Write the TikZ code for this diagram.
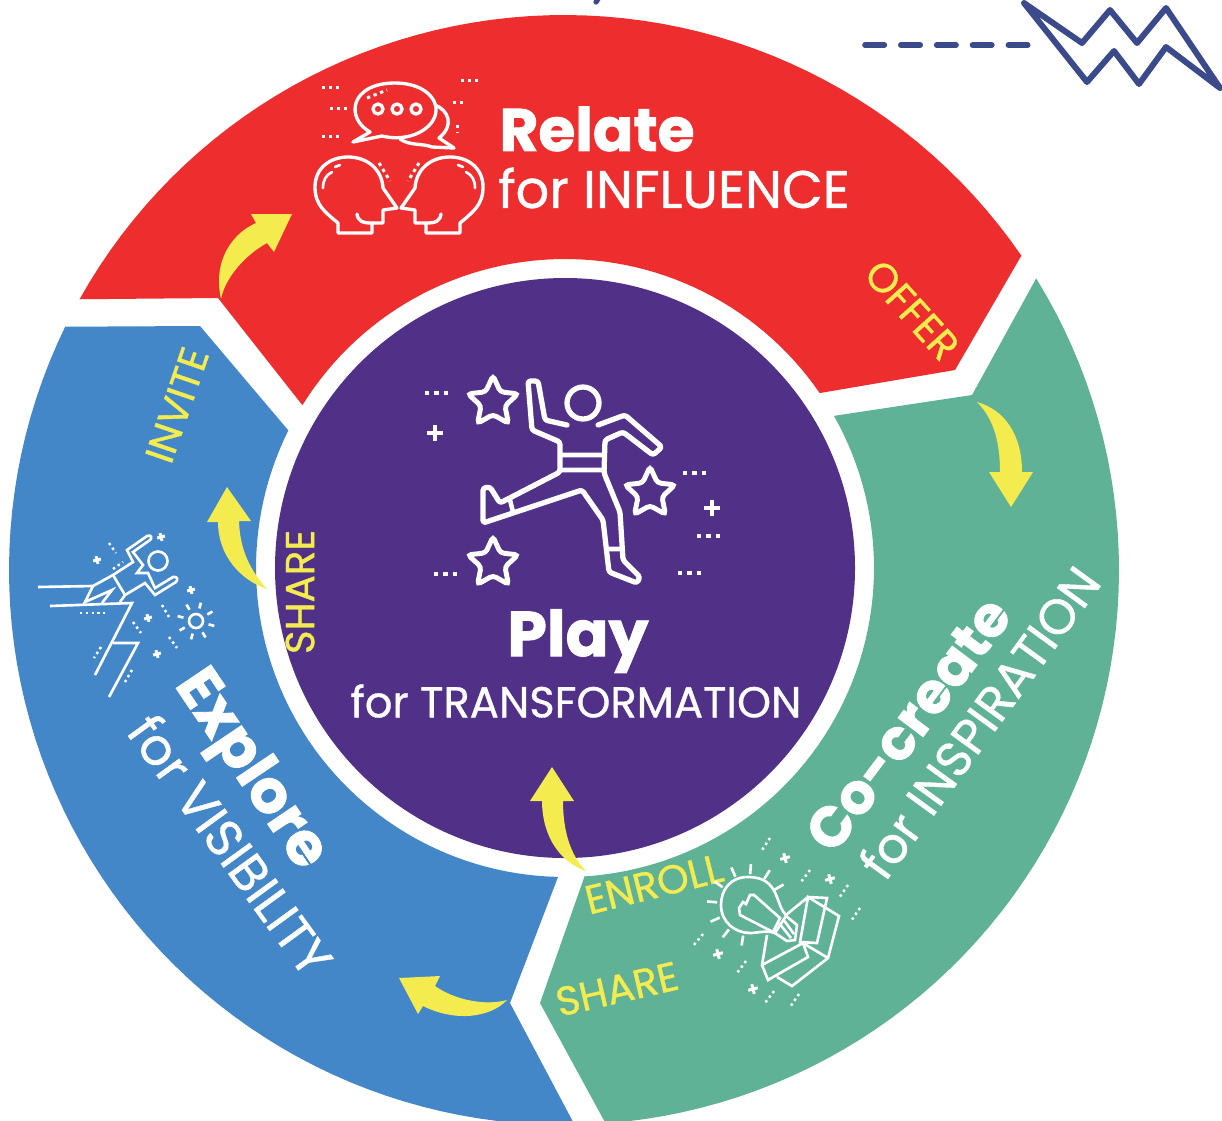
\documentclass[tikz,border=0pt]{standalone}
\usepackage{fontspec}
\setmainfont{Poppins}[FakeBold=0.8, BoldFeatures={FakeBold=1.5}]
\usetikzlibrary{shapes.geometric}

\definecolor{relatered}{HTML}{EE2E2E}
\definecolor{cocreategreen}{HTML}{60B296}
\definecolor{exploreblue}{HTML}{4387C9}
\definecolor{playpurple}{HTML}{513088}
\definecolor{arrowyellow}{HTML}{F4EC4F}
\definecolor{sketchnavy}{HTML}{3A4A8A}

\begin{document}
\begin{tikzpicture}[
    x=0.02cm, y=-0.02cm,
    segment/.style={draw=none, line join=round},
    flowarrow/.style={fill=arrowyellow, draw=none},
    headline/.style={text=white, inner sep=0pt, font=\fontsize{#1}{#1}\selectfont\bfseries},
    headline/.default=34,
    subline/.style={text=white, inner sep=0pt, font=\fontsize{#1}{#1}\selectfont},
    subline/.default=28,
    tag/.style={text=arrowyellow, inner sep=0pt, font=\fontsize{23}{23}\selectfont},
    icon/.style={draw=white, line width=1.9pt, line join=round, line cap=round},
    thin icon/.style={draw=white, line width=1.5pt, line join=miter},
    dots/.style={draw=white, line width=1.7pt, dash pattern=on 1.9pt off 2.1pt},
    thin dots/.style={draw=white, line width=1.4pt, dash pattern=on 1.4pt off 1.9pt},
    plusmark/.style={draw=white, line width=1.5pt},
    starmark/.style={star, star points=5, star point ratio=2.1, draw=white, line width=2.8pt,
        rounded corners=2pt, inner sep=0pt, minimum size=30pt}
]
\useasboundingbox (0,0) rectangle (1222,1120);
\clip (0,0) rectangle (1222,1120);

% Ring segments
\fill[relatered, segment] plot[domain=-150.8:-34.5, samples=60] ({564+555*cos(\x)},{570+555*sin(\x)})
    -- (955,370) -- (820,393)
    -- plot[domain=-34.5:-148.2, samples=60] ({565+309*cos(\x)},{568+309*sin(\x)})
    -- (218,298) -- cycle;
\fill[cocreategreen, segment] plot[domain=-31.7:85.7, samples=60] ({564+555*cos(\x)},{570+555*sin(\x)})
    -- (540,1003) -- (585,875)
    -- plot[domain=86.3:-29.5, samples=60] ({565+309*cos(\x)},{568+309*sin(\x)})
    -- (972,395) -- cycle;
\fill[exploreblue, segment] plot[domain=88.9:206, samples=60] ({564+555*cos(\x)},{570+555*sin(\x)})
    -- (200,326) -- (288,430)
    -- plot[domain=206.5:91.3, samples=60] ({565+309*cos(\x)},{568+309*sin(\x)})
    -- (510,1003) -- cycle;

% Centre disc
\fill[playpurple] (565,568) circle[radius=290];

% Yellow arrows
\fill[flowarrow] (292,214) -- (251,214) -- (256,223) .. controls (235,232) and (212,258) .. (221,299)
    .. controls (225,278) and (245,255) .. (267,243) -- (274,252) -- cycle;
\fill[flowarrow] (1011,507) -- (989,472) -- (1000,472) .. controls (1000,445) and (995,420) .. (977,402)
    .. controls (1005,410) and (1022,435) .. (1022,472) -- (1033,472) -- cycle;
\fill[flowarrow] (552,767) -- (530,801) -- (542,801) .. controls (542,830) and (555,860) .. (586,871)
    .. controls (570,855) and (563,830) .. (563,801) -- (574,801) -- cycle;
\fill[flowarrow] (399,978) -- (440,976) -- (435,986) .. controls (455,1000) and (485,1006) .. (507,1000)
    .. controls (490,1018) and (455,1022) .. (423,1006) -- (418,1014) -- cycle;
\fill[flowarrow] (227,487) -- (207,522) -- (218,522) .. controls (218,555) and (240,580) .. (267,589)
    .. controls (250,570) and (240,550) .. (239,521) -- (251,521) -- cycle;

% Sketch top right
\draw[sketchnavy, line width=3.2pt, line cap=round, dash pattern=on 11pt off 9.4pt] (865,45) -- (1030,45);
\draw[sketchnavy, line width=3.4pt, line join=round, line cap=round]
    (1024,3) -- (1082,43) -- (1110,10) -- (1137,43) -- (1166,8) -- (1220,88)
    -- (1166,47) -- (1139,84) -- (1114,51) -- (1087,82) -- cycle;
\draw[sketchnavy, line width=3pt, line cap=round] (601,-6) -- (596,2);

% Texts
\node[headline] (relate) at (597,129) {Relate};
\node[subline=30] (relatesub) at (674,188) {for INFLUENCE};
\node[headline=36] (play) at (578,641) {Play};
\node[subline=24.6] (playsub) at (576,701) {for TRANSFORMATION};
\node[headline=32, rotate=53] (cocreate) at (908,724) {Co-create};
\node[subline, rotate=54] (cocreatesub) at (979,722) {for INSPIRATION};
\node[headline, rotate=-56] (explore) at (249,771) {Explore};
\node[subline=29, rotate=-54] (exploresub) at (231,845) {for VISIBILITY};
\node[tag, rotate=-48] (offer) at (912,310) {OFFER};
\node[tag, rotate=71] (invite) at (177,405) {INVITE};
\node[tag, rotate=90] (sharepurple) at (300,592) {SHARE};
\node[tag, rotate=14] (enroll) at (654,884) {ENROLL};
\node[tag, rotate=13] (sharegreen) at (617,989) {SHARE};

% Speech bubbles
\draw[icon] (370,132) .. controls (345,118) and (350,83) .. (395,83)
    .. controls (425,83) and (437,100) .. (436,110) .. controls (436,128) and (410,143) .. (382,136)
    -- (353,142) -- cycle;
\draw[icon] (435,105) .. controls (448,110) and (455,125) .. (439,138) -- (454,148)
    -- (432,147) .. controls (422,143) and (410,146) .. (400,139);
\foreach \cx in {378,397,416} {
    \draw[icon] (\cx,109) circle[radius=5];
}
\draw[dots] (367,98) -- (387,90);

% Two heads
\foreach \sx/\ox in {1/0,-1/798} {
    \draw[icon] (\ox+\sx*338,233) -- (\ox+\sx*338,223) .. controls (\ox+\sx*325,212) and (\ox+\sx*315,205) .. (\ox+\sx*315,187)
        .. controls (\ox+\sx*315,168) and (\ox+\sx*330,157) .. (\ox+\sx*348,157)
        .. controls (\ox+\sx*368,157) and (\ox+\sx*382,170) .. (\ox+\sx*383,188)
        -- (\ox+\sx*397,208) -- (\ox+\sx*383,210) -- (\ox+\sx*383,223) -- (\ox+\sx*372,223)
        -- (\ox+\sx*372,233) -- cycle;
    \draw[icon] (\ox+\sx*357,214) .. controls (\ox+\sx*358,221) and (\ox+\sx*362,223) .. (\ox+\sx*372,223);
    \draw[icon, line width=1.5pt] (\ox+\sx*323,188) .. controls (\ox+\sx*323,180) and (\ox+\sx*326,175) .. (\ox+\sx*332,172);
    \draw[icon, line width=1.5pt] (\ox+\sx*335,167) -- (\ox+\sx*340,165);
    \draw[dots] (\ox+\sx*379,163) -- (\ox+\sx*390,181);
}
\foreach \xa/\ya/\xb/\yb in {322/87/339/87, 330/108/347/108, 322/136/339/136, 461/80/478/80, 453/102/464/102, 457/125/457/133} {
    \draw[dots] (\xa,\ya) -- (\xb,\yb);
}

% Dancer
\draw[icon, line width=3pt] (583,403) circle[radius=16];
\draw[icon, line width=3pt, rounded corners=1.5pt] (567,425) -- (545,420) -- (538,381) -- (528,381) -- (532,430) -- (560,442)
    -- (560,472) -- (500,503) -- (490,487) -- (483,488) -- (483,523) -- (582,490) -- (603,520)
    -- (609,572) -- (637,583) -- (640,577) -- (623,560) -- (620,512) -- (604,473) -- (605,440)
    -- (623,432) -- (653,455) -- (662,447) -- (625,415) -- (598,425);
\draw[icon, line width=2.6pt] (562,455) -- (603,455) (562,470) -- (603,470) (510,500) -- (513,512) (608,549) -- (622,549);
\node[starmark] (stara) at (493,402) {};
\node[starmark] (starb) at (650,493) {};
\node[starmark] (starc) at (493,563) {};
\foreach \xa/\ya/\xb/\yb in {425/393/448/393, 683/473/706/473, 697/536/720/536, 678/573/702/573, 434/574/457/574} {
    \draw[dots, line width=2pt, dash pattern=on 2.4pt off 2.9pt] (\xa,\ya) -- (\xb,\yb);
}
\foreach \px/\py in {435/433, 712/508} {
    \draw[plusmark, line width=2.5pt] (\px-8,\py) -- (\px+8,\py) (\px,\py-8) -- (\px,\py+8);
}

% Explorer on the cliff
\draw[thin icon] (38,587) -- (93,586) -- (113,575) -- (133,562) -- (127,550) -- (147,536) .. controls (152,534) and (152,539) .. (150,540)
    -- (133,552) -- (143,565) -- (137,573) -- (148,573) -- (155,588) -- (173,577) .. controls (178,576) and (178,580) .. (176,582)
    -- (155,595) -- (145,583) -- (125,595) -- (120,602);
\draw[thin icon] (93,586) -- (85,602) -- (112,590) -- (102,603);
\draw[thin icon] (113,575) -- (125,595);
\draw[thin icon] (50,606) -- (132,603) -- (95,675);
\draw[thin icon] (113,643) -- (138,643) -- (109,697);
\draw[thin icon] (158,561) circle[radius=9.5];
\draw[thin icon] (196,621) circle[radius=7];
\foreach \a in {15,60,...,330} {
    \draw[thin icon] ({196+13*cos(\a)},{621+13*sin(\a)}) -- ({196+19*cos(\a)},{621+19*sin(\a)});
}
\foreach \xa/\ya/\xb/\yb in {80/613/105/613, 109/543/116/553, 113/569/123/562, 162/605/169/617, 133/622/141/633, 169/637/177/648, 101/647/94/658, 132/670/125/682} {
    \draw[thin dots] (\xa,\ya) -- (\xb,\yb);
}
\foreach \px/\py in {161/537, 97/560, 191/590, 148/618, 157/654} {
    \draw[plusmark, line width=1.7pt, rotate around={15:(\px,\py)}] (\px-4,\py) -- (\px+4,\py) (\px,\py-4) -- (\px,\py+4);
}

% Bulb in the box
\draw[thin icon] (786,915) .. controls (775,905) and (780,877) .. (748,877) .. controls (730,877) and (721,890) .. (721,905)
    .. controls (721,922) and (735,933) .. (750,933) .. controls (758,933) and (766,930) .. (775,933);
\draw[thin icon] (786,916) -- (797,925) -- (795,940) -- (787,941) -- (775,933) -- cycle;
\draw[thin icon] (779,923) -- (791,938) (783,919) -- (794,934);
\draw[thin icon] (739,908) -- (743,902) -- (746,904) -- (750,895) -- (754,895) -- (780,918) -- (773,932) -- (740,915) -- cycle;
\foreach \a in {185,156,128,99,215,246,274,302,330} {
    \draw[thin icon] ({748+31*cos(\a)},{905+31*sin(\a)}) -- ({748+41*cos(\a)},{905+41*sin(\a)});
}
\draw[thin icon] (767,935) -- (762,965) -- (768,980) -- (808,957) -- (803,943) -- (762,965);
\draw[thin icon] (786,915) -- (808,897) -- (827,898) -- (817,943) -- (800,942) -- (808,897) -- (839,916) -- (828,958) -- (792,986) -- (777,977);
\draw[thin icon] (803,943) -- (828,958);
\foreach \xa/\ya/\xb/\yb in {770/838/762/850, 810/870/801/882, 848/885/839/898, 860/908/851/921, 703/934/693/946, 746/961/737/973, 774/991/765/1003, 799/994/790/1007} {
    \draw[thin dots] (\xa,\ya) -- (\xb,\yb);
}
\foreach \px/\py in {785/858, 830/879, 718/954, 753/989} {
    \draw[plusmark, line width=1.7pt, rotate around={15:(\px,\py)}] (\px-5,\py) -- (\px+5,\py) (\px,\py-5) -- (\px,\py+5);
}
\end{tikzpicture}
\end{document}
